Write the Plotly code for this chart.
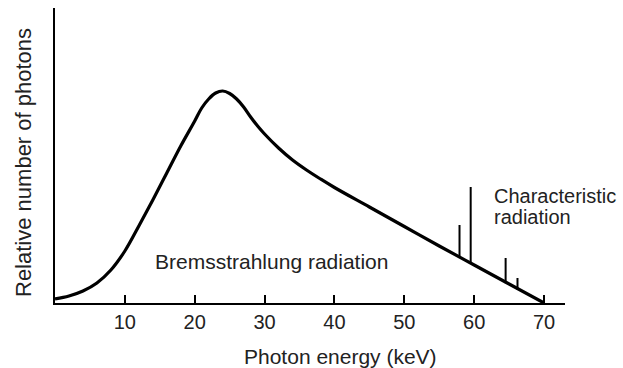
import plotly.graph_objects as go

# Bremsstrahlung continuum (relative units)
energy_kev = [0, 2, 4, 6, 8, 10, 12, 14, 16, 18, 20, 21, 22, 23, 24, 25, 26, 27, 28, 29, 30, 32, 34, 36, 38, 40, 45, 50, 55, 60, 65, 70]
photons = [4, 7, 12, 20, 33, 52, 77, 103, 130, 157, 182, 195, 204, 210, 212, 209.5, 204, 196, 186, 177, 169, 155, 143, 133, 124, 115.5, 96, 76.5, 57, 38, 19, 0]

# Characteristic lines
char_kev = [57.9, 59.5, 64.5, 66.2]
char_top = [78, 116, 45, 25]
char_base = [45.5, 39.3, 19.8, 13.2]

tick_vals = [10, 20, 30, 40, 50, 60, 70]
tick_text = ["10", "20", "30", "40", "50", "60", "70"]

FONT = "Liberation Sans, Arial, Helvetica, sans-serif"
TXT = "#222222"

fig = go.Figure()

fig.add_trace(go.Scatter(
    x=energy_kev, y=photons, mode="lines",
    line=dict(color="black", width=3.2, shape="spline", smoothing=1.0),
    hoverinfo="skip", showlegend=False,
))

cx, cy = [], []
for e, b, t in zip(char_kev, char_base, char_top):
    cx += [e, e, None]
    cy += [b, t, None]
fig.add_trace(go.Scatter(
    x=cx, y=cy, mode="lines",
    line=dict(color="black", width=2),
    hoverinfo="skip", showlegend=False,
))

fig.update_layout(
    width=623, height=368,
    margin=dict(l=55, r=58, t=8, b=65),
    paper_bgcolor="white", plot_bgcolor="white",
    font=dict(family=FONT, size=20, color=TXT),
    xaxis=dict(
        range=[0, 73], showgrid=False, zeroline=False,
        showline=True, linecolor="black", linewidth=2,
        ticks="inside", ticklen=8, tickwidth=2, tickcolor="black",
        tickvals=tick_vals, ticktext=tick_text,
        tickfont=dict(family=FONT, size=20, color=TXT),
    ),
    yaxis=dict(
        range=[0, 295], showgrid=False, zeroline=False,
        showline=True, linecolor="black", linewidth=2,
        showticklabels=False, ticks="",
    ),
    annotations=[
        dict(text="Bremsstrahlung radiation", x=14.0, y=42, xref="x", yref="y",
             xanchor="left", yanchor="middle", showarrow=False,
             font=dict(family=FONT, size=21, color=TXT)),
        dict(text="Characteristic", x=62.5, y=107, xref="x", yref="y",
             xanchor="left", yanchor="middle", showarrow=False,
             font=dict(family=FONT, size=20, color=TXT)),
        dict(text="radiation", x=62.5, y=86, xref="x", yref="y",
             xanchor="left", yanchor="middle", showarrow=False,
             font=dict(family=FONT, size=20, color=TXT)),
        dict(text="Photon energy (keV)", x=40.9, y=-(356 - 303) / 295, xref="x", yref="paper",
             xanchor="center", yanchor="middle", showarrow=False,
             font=dict(family=FONT, size=21, color=TXT)),
        dict(text="Relative number of photons", x=-(55 - 24) / 510, y=(303 - 163) / 295,
             xref="paper", yref="paper", textangle=-90,
             xanchor="center", yanchor="middle", showarrow=False,
             font=dict(family=FONT, size=22, color=TXT)),
    ],
)

fig.write_html("out.html")
